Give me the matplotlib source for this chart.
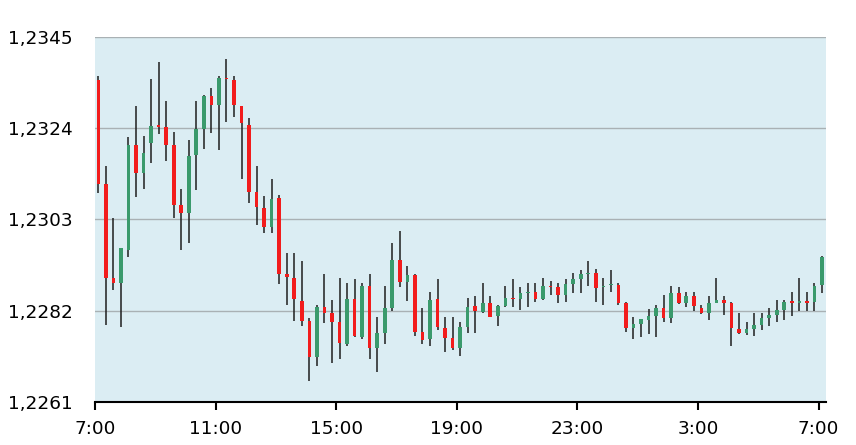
import matplotlib
matplotlib.use("Agg")
import matplotlib.pyplot as plt
import numpy as np
import pandas as pd

# 15-minute candles from 7:00 to 7:00 next day
times = pd.date_range("2024-01-01 07:00", periods=97, freq="15min")

opens = [1.23350, 1.23111, 1.22896, 1.22883, 1.22960, 1.23201, 1.23137, 1.23206, 1.23246, 1.23243,
         1.23201, 1.23063, 1.23045, 1.23178, 1.23237, 1.23314, 1.23293, 1.23355, 1.23350, 1.23290,
         1.23248, 1.23094, 1.23056, 1.23012, 1.23079, 1.22904, 1.22895, 1.22843, 1.22797, 1.22713,
         1.22828, 1.22814, 1.22794, 1.22744, 1.22847, 1.22761, 1.22877, 1.22734, 1.22770, 1.22826,
         1.22938, 1.22887, 1.22902, 1.22772, 1.22755, 1.22847, 1.22781, 1.22757, 1.22734, 1.22782,
         1.22831, 1.22818, 1.22837, 1.22808, 1.22831, 1.22850, 1.22847, 1.22860, 1.22864, 1.22847,
         1.22877, 1.22874, 1.22856, 1.22882, 1.22893, 1.22905, 1.22906, 1.22875, 1.22879, 1.22879,
         1.22837, 1.22781, 1.22790, 1.22799, 1.22808, 1.22826, 1.22803, 1.22862, 1.22839, 1.22854,
         1.22827, 1.22814, 1.22838, 1.22845, 1.22839, 1.22778, 1.22770, 1.22778, 1.22788, 1.22803,
         1.22811, 1.22822, 1.22841, 1.22839, 1.22841, 1.22841, 1.22879]
highs = [1.23360, 1.23153, 1.23033, 1.22965, 1.23220, 1.23290, 1.23222, 1.23352, 1.23391, 1.23303,
         1.23231, 1.23101, 1.23212, 1.23302, 1.23316, 1.23331, 1.23360, 1.23398, 1.23360, 1.23291,
         1.23262, 1.23153, 1.23084, 1.23122, 1.23086, 1.22954, 1.22954, 1.22935, 1.22803, 1.22834,
         1.22905, 1.22845, 1.22895, 1.22883, 1.22893, 1.22883, 1.22905, 1.22807, 1.22876, 1.22975,
         1.23003, 1.22923, 1.22905, 1.22826, 1.22864, 1.22893, 1.22805, 1.22805, 1.22795, 1.22849,
         1.22854, 1.22885, 1.22854, 1.22834, 1.22876, 1.22893, 1.22874, 1.22883, 1.22885, 1.22895,
         1.22889, 1.22885, 1.22893, 1.22906, 1.22914, 1.22935, 1.22916, 1.22895, 1.22914, 1.22885,
         1.22841, 1.22805, 1.22801, 1.22824, 1.22834, 1.22856, 1.22876, 1.22874, 1.22864, 1.22864,
         1.22834, 1.22854, 1.22895, 1.22854, 1.22841, 1.22816, 1.22795, 1.22816, 1.22816, 1.22826,
         1.22845, 1.22845, 1.22864, 1.22895, 1.22864, 1.22885, 1.22946]
lows = [1.23091, 1.22788, 1.22868, 1.22784, 1.22944, 1.23082, 1.23100, 1.23160, 1.23226, 1.23165,
        1.23033, 1.22960, 1.22977, 1.23098, 1.23191, 1.23229, 1.23189, 1.23254, 1.23266, 1.23122,
        1.23067, 1.23017, 1.22998, 1.23000, 1.22882, 1.22834, 1.22797, 1.22785, 1.22660, 1.22693,
        1.22793, 1.22701, 1.22709, 1.22739, 1.22759, 1.22755, 1.22709, 1.22680, 1.22744, 1.22820,
        1.22874, 1.22843, 1.22762, 1.22744, 1.22739, 1.22775, 1.22726, 1.22729, 1.22716, 1.22769,
        1.22769, 1.22816, 1.22805, 1.22785, 1.22830, 1.22830, 1.22822, 1.22830, 1.22841, 1.22845,
        1.22856, 1.22837, 1.22841, 1.22860, 1.22860, 1.22876, 1.22840, 1.22834, 1.22864, 1.22834,
        1.22772, 1.22755, 1.22761, 1.22766, 1.22761, 1.22795, 1.22793, 1.22836, 1.22830, 1.22820,
        1.22813, 1.22799, 1.22837, 1.22811, 1.22739, 1.22766, 1.22765, 1.22762, 1.22775, 1.22785,
        1.22795, 1.22799, 1.22808, 1.22820, 1.22820, 1.22820, 1.22862]
closes = [1.23111, 1.22896, 1.22883, 1.22964, 1.23201, 1.23137, 1.23183, 1.23245, 1.23242, 1.23201,
          1.23063, 1.23045, 1.23176, 1.23237, 1.23314, 1.23293, 1.23354, 1.23352, 1.23293, 1.23251,
          1.23094, 1.23059, 1.23012, 1.23076, 1.22905, 1.22897, 1.22847, 1.22797, 1.22713, 1.22830,
          1.22816, 1.22795, 1.22746, 1.22847, 1.22762, 1.22877, 1.22734, 1.22769, 1.22826, 1.22938,
          1.22887, 1.22902, 1.22772, 1.22753, 1.22845, 1.22782, 1.22757, 1.22734, 1.22784, 1.22830,
          1.22820, 1.22837, 1.22807, 1.22831, 1.22849, 1.22847, 1.22860, 1.22862, 1.22847, 1.22876,
          1.22874, 1.22856, 1.22882, 1.22893, 1.22905, 1.22907, 1.22873, 1.22876, 1.22880, 1.22837,
          1.22781, 1.22789, 1.22801, 1.22808, 1.22826, 1.22803, 1.22860, 1.22839, 1.22854, 1.22831,
          1.22816, 1.22839, 1.22845, 1.22839, 1.22780, 1.22770, 1.22778, 1.22788, 1.22803, 1.22811,
          1.22822, 1.22841, 1.22839, 1.22841, 1.22839, 1.22876, 1.22944]

y_ticks = [1.2261, 1.2282, 1.2303, 1.2324, 1.2345]
y_tick_labels = ["1,2261", "1,2282", "1,2303", "1,2324", "1,2345"]
x_ticks_hours = [7, 11, 15, 19, 23, 27, 31]
x_tick_labels = ["7:00", "11:00", "15:00", "19:00", "23:00", "3:00", "7:00"]

UP = "#3a9a6c"
DOWN = "#f21c1c"
WICK = "#1e1e1e"
BG = "#dbedf3"

o = np.array(opens); h = np.array(highs); l = np.array(lows); c = np.array(closes)
start = times[0]
x = np.array([(t - start).total_seconds() / 3600.0 for t in times]) + 7 + 0.11

fig = plt.figure(figsize=(8.56, 4.45), dpi=100)
ax = fig.add_axes([95 / 856, 1 - 402.3 / 445, (826 - 95) / 856, (402.3 - 36.6) / 445])
ax.set_facecolor(BG)

ax.set_ylim(1.2261, 1.2345)
ax.set_xlim(7, 31.245)
ax.set_yticks(y_ticks)
ax.set_yticklabels(y_tick_labels)
ax.set_xticks(x_ticks_hours)
ax.set_xticklabels(x_tick_labels)

ax.grid(axis="y", color="#a9b1b4", linewidth=1.0, zorder=0)
ax.set_axisbelow(True)

ax.vlines(x, l, h, color=WICK, linewidth=1.1, zorder=2)
up = c >= o
colors = np.where(up, UP, DOWN)
bottoms = np.minimum(o, c)
heights = np.maximum(np.abs(c - o), 0.00003)
ax.bar(x, heights, bottom=bottoms, width=0.12, color=colors, edgecolor="none", zorder=3)

for s in ["left", "right", "top"]:
    ax.spines[s].set_visible(False)
ax.spines["bottom"].set_color("black")
ax.spines["bottom"].set_linewidth(1.5)

ax.tick_params(axis="y", length=0, pad=16, labelsize=13.3, colors="black")
ax.tick_params(axis="x", length=6, width=1.5, direction="out", pad=7, labelsize=13.3, colors="black")

fig.savefig("out.png", dpi=100, facecolor="white")
